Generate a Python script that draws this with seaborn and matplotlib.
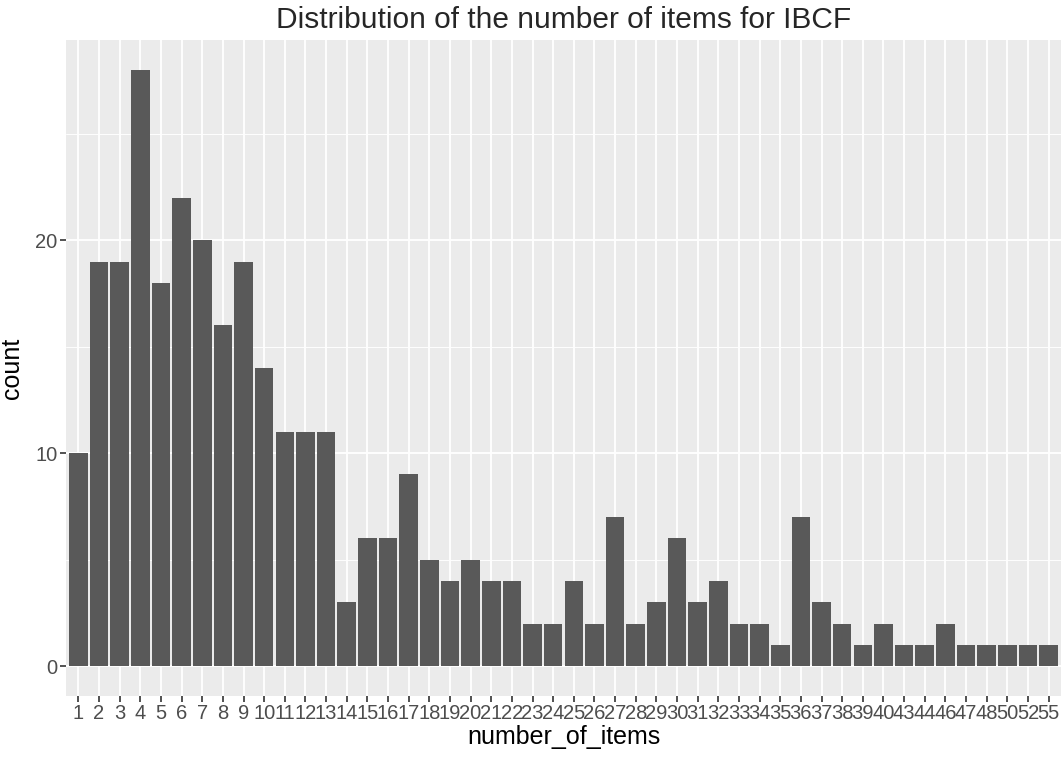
import matplotlib
matplotlib.use("Agg")
import matplotlib.pyplot as plt
import seaborn as sns
import pandas as pd
from matplotlib.ticker import MultipleLocator

# categories (number of items) and counts
number_of_items = [str(i) for i in range(1, 41)] + ["43", "44", "46", "47", "48", "50", "52", "55"]
counts = [10, 19, 19, 28, 18, 22, 20, 16, 19, 14,
          11, 11, 11, 3, 6, 6, 9, 5, 4, 5,
          4, 4, 2, 2, 4, 2, 7, 2, 3, 6,
          3, 4, 2, 2, 1, 7, 3, 2, 1, 2,
          1, 1, 2, 1, 1, 1, 1, 1]

df = pd.DataFrame({"number_of_items": number_of_items, "count": counts})

sns.set_theme(style="darkgrid", rc={
    "axes.facecolor": "#EBEBEB",
    "grid.color": "white",
    "axes.edgecolor": "#EBEBEB",
    "xtick.bottom": True,
    "ytick.left": True,
})
plt.rcParams["font.family"] = ["Liberation Sans", "DejaVu Sans"]

fig = plt.figure(figsize=(10.62, 7.58), dpi=100)
ax = fig.add_axes([66 / 1062, 62 / 758, 995 / 1062, 656 / 758])

sns.barplot(data=df, x="number_of_items", y="count", order=number_of_items,
            color="#595959", saturation=1, width=0.9, linewidth=0, ax=ax)

n = len(number_of_items)
ax.set_xlim(-0.6, n - 1 + 0.6)
ax.set_ylim(-1.4, 29.4)
ax.yaxis.set_major_locator(MultipleLocator(10))
ax.yaxis.set_minor_locator(MultipleLocator(5))
ax.grid(which="major", color="white", linewidth=1.3)
ax.grid(which="minor", axis="y", color="white", linewidth=0.65)
ax.set_axisbelow(True)
for s in ax.spines.values():
    s.set_visible(False)

ax.tick_params(axis="both", which="major", length=4, width=1.2, color="#333333",
               labelcolor="#4D4D4D", labelsize=14.5, pad=2)
ax.tick_params(axis="y", which="minor", length=0)
ax.set_xlabel("number_of_items", fontsize=18, color="black", labelpad=1)
ax.set_ylabel("count", fontsize=18, color="black", labelpad=8)
ax.set_title("Distribution of the number of items for IBCF", fontsize=21.5, pad=9)

fig.savefig("out.png", dpi=100)
